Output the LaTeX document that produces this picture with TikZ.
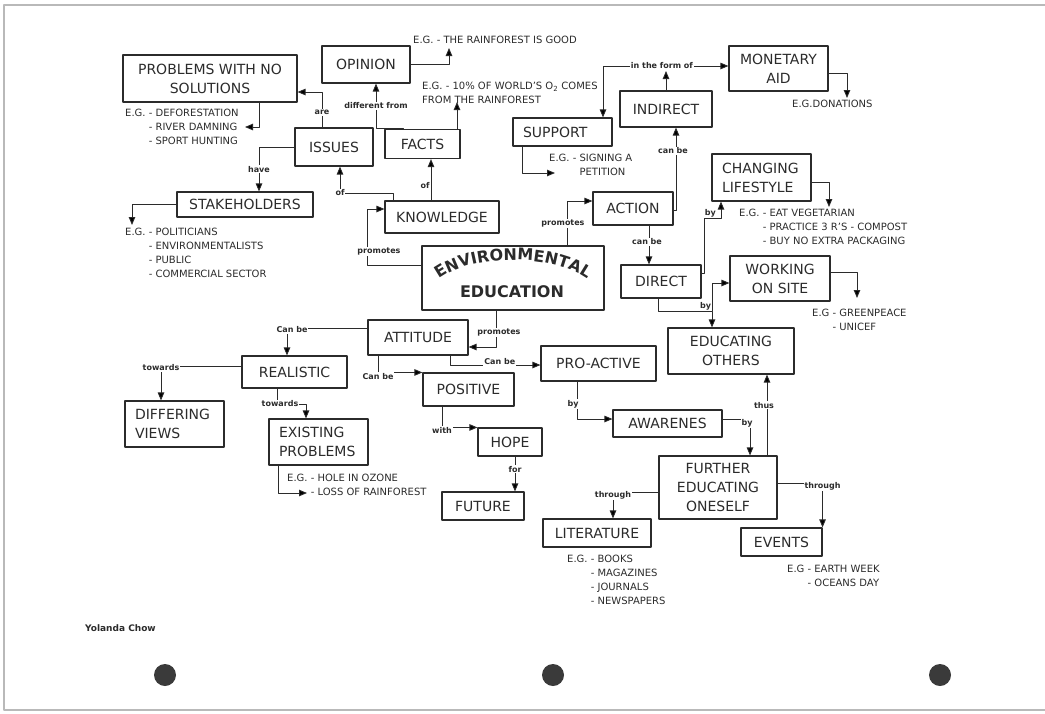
\documentclass[tikz,border=0pt]{standalone}
\usepackage{fontspec}
\setmainfont{DejaVu Sans}
\usepackage{tikz}
\usetikzlibrary{arrows.meta, decorations.text}
\usepackage{xcolor}

\definecolor{ink}{HTML}{2B2B2B}
\definecolor{dotgray}{HTML}{3A3A3A}

\newcommand{\boxfont}{\fontsize{14}{19}\selectfont}
\newcommand{\notefont}{\fontsize{10}{14}\selectfont}
\newcommand{\linkfont}{\fontsize{8}{9}\selectfont\bfseries}
\newcommand{\eefont}{\fontsize{16}{16}\selectfont\bfseries}

\tikzset{
  box/.style={draw=ink, line width=1.1pt, text=ink, font=\boxfont, align=center, inner sep=0pt},
  leftbox/.style={box, align=left, inner xsep=10pt},
  note/.style={anchor=west, align=left, text=ink, font=\notefont, inner sep=0pt},
  link/.style={draw=ink, line width=0.9pt, -{Triangle[length=8pt, width=6.5pt]}},
  lbl/.style={fill=white, text=ink, font=\linkfont, inner sep=1pt},
}

\begin{document}
\begin{tikzpicture}[x=1pt, y=-1pt, line join=round]

    % page is 1045 x 713, y runs downwards
    \useasboundingbox (0,0) rectangle (1045,713);
    \draw[gray!55, line width=1.5pt] (1045,5) -- (4,5) -- (4,710) -- (1045,710);

    % Free ends of the example arrows
    \coordinate (opintip)  at (449,48);
    \coordinate (factstip) at (457,102);
    \coordinate (probtip)  at (245,127);
    \coordinate (staketip) at (132,225);
    \coordinate (suptip)   at (555,173);
    \coordinate (montip)   at (847,98);
    \coordinate (chtip)    at (829,207);
    \coordinate (worktip)  at (857,298);
    \coordinate (extip)    at (307,493);
    \coordinate (formL)    at (603,66);
    \coordinate (byjoin)   at (712,311);

    % Concept boxes
    \node[box, minimum width=174pt, minimum height=47pt] (prob) at (210,78.5) {PROBLEMS WITH NO\\SOLUTIONS};
    \node[box, minimum width=88pt, minimum height=37pt] (opin) at (366,64.5) {OPINION};
    \node[box, minimum width=78pt, minimum height=38pt] (issues) at (334,147) {ISSUES};
    \node[box, minimum width=75pt, minimum height=29pt] (facts) at (422.5,144) {FACTS};
    \node[box, minimum width=136pt, minimum height=25pt] (stake) at (245,204.5) {STAKEHOLDERS};
    \node[box, minimum width=114pt, minimum height=32pt] (know) at (442,217) {KNOWLEDGE};
    \node[box, minimum width=182pt, minimum height=64pt] (ee) at (513,278) {};
    \node[leftbox, text width=79pt, minimum width=99pt, minimum height=28pt] (support) at (562.5,132) {SUPPORT};
    \node[box, minimum width=92pt, minimum height=36pt] (indirect) at (666,109) {INDIRECT};
    \node[box, minimum width=99pt, minimum height=45pt] (monetary) at (778.5,68.5) {MONETARY\\AID};
    \node[box, minimum width=80pt, minimum height=33pt] (action) at (633,208.5) {ACTION};
    \node[box, minimum width=80pt, minimum height=33pt] (direct) at (661,281.5) {DIRECT};
    \node[leftbox, text width=79pt, minimum width=99pt, minimum height=47pt] (changing) at (761.5,177.5) {CHANGING\\LIFESTYLE};
    \node[box, minimum width=100pt, minimum height=45pt] (working) at (780,278.5) {WORKING\\ON SITE};
    \node[box, minimum width=126pt, minimum height=46pt] (educ) at (731,351) {EDUCATING\\OTHERS};
    \node[box, minimum width=100pt, minimum height=35pt] (attitude) at (418,337.5) {ATTITUDE};
    \node[box, minimum width=105pt, minimum height=32pt] (realistic) at (294.5,372) {REALISTIC};
    \node[leftbox, text width=79pt, minimum width=99pt, minimum height=46pt] (differing) at (174.5,424) {DIFFERING\\VIEWS};
    \node[leftbox, text width=79pt, minimum width=99pt, minimum height=46pt] (existing) at (318.5,442) {EXISTING\\PROBLEMS};
    \node[box, minimum width=91pt, minimum height=33pt] (positive) at (468.5,389.5) {POSITIVE};
    \node[box, minimum width=115pt, minimum height=35pt] (proactive) at (598.5,363.5) {PRO-ACTIVE};
    \node[box, minimum width=109pt, minimum height=27pt] (awarenes) at (667.5,423.5) {AWARENES};
    \node[box, minimum width=64pt, minimum height=28pt] (hope) at (510,442) {HOPE};
    \node[box, minimum width=82pt, minimum height=28pt] (future) at (483,506) {FUTURE};
    \node[box, minimum width=108pt, minimum height=28pt] (literature) at (597,533) {LITERATURE};
    \node[box, minimum width=118pt, minimum height=63pt] (further) at (718,487.5) {FURTHER\\EDUCATING\\ONESELF};
    \node[box, minimum width=81pt, minimum height=28pt] (events) at (781.5,542) {EVENTS};

    % Arched title
    \path[decorate, decoration={text along path, text align=center, text color=ink,
        text={|\eefont|ENVIRONMENTAL}}]
        (428,290) .. controls (455,250) and (570,250) .. (598,290);
    \node[font=\eefont, text=ink, inner sep=0pt] (eetext) at (512,292) {EDUCATION};

    % Examples
    \node[note] (opinex) at (413,40) {E.G. - THE RAINFOREST IS GOOD};
    \node[note] (factsex) at (422,93) {E.G. - 10\% OF WORLD'S O\textsubscript{2} COMES\\FROM THE RAINFOREST};
    \node[note] (probex) at (125,127) {E.G. - DEFORESTATION\\\phantom{E.G. }- RIVER DAMNING\\\phantom{E.G. }- SPORT HUNTING};
    \node[note] (stakeex) at (125,253) {E.G. - POLITICIANS\\\phantom{E.G. }- ENVIRONMENTALISTS\\\phantom{E.G. }- PUBLIC\\\phantom{E.G. }- COMMERCIAL SECTOR};
    \node[note] (supex) at (549,165) {E.G. - SIGNING A\\\phantom{E.G. - }PETITION};
    \node[note] (monex) at (792,104) {E.G.DONATIONS};
    \node[note] (chex) at (739,226.5) {E.G. - EAT VEGETARIAN\\\phantom{E.G. }- PRACTICE 3 R'S - COMPOST\\\phantom{E.G. }- BUY NO EXTRA PACKAGING};
    \node[note] (workex) at (812,319.5) {E.G - GREENPEACE\\\phantom{E.G }- UNICEF};
    \node[note] (exex) at (287,484.5) {E.G. - HOLE IN OZONE\\\phantom{E.G. }- LOSS OF RAINFOREST};
    \node[note] (litex) at (567,580) {E.G. - BOOKS\\\phantom{E.G. }- MAGAZINES\\\phantom{E.G. }- JOURNALS\\\phantom{E.G. }- NEWSPAPERS};
    \node[note] (evex) at (787,576) {E.G - EARTH WEEK\\\phantom{E.G }- OCEANS DAY};
    \node[note, font=\fontsize{9}{11}\selectfont\bfseries] (author) at (85,628) {Yolanda Chow};

    % Knowledge side
    \draw[link] (issues.north -| 322,0) |- (prob.east |- 0,92) node[lbl, pos=0.21] {are};
    \draw[link] (prob.south -| 259,0) |- (probtip);
    \draw[link] (issues.west) -| (stake.north -| 259,0) node[lbl, pos=0.75] {have};
    \draw[link] (stake.west) -| (staketip);
    \draw[link] (opin.east) -| (opintip);
    \draw[link] (facts.north -| 403,0) -- (403,128) -| (opin.south -| 376,0) node[lbl, pos=0.75] {different from};
    \draw[link] (facts.north -| 457,0) -- (factstip);
    \draw[link] (know.north -| 431,0) -- (facts.south -| 431,0) node[lbl, pos=0.35, left, fill=none] {of};
    \draw[link] (know.north -| 393,0) -- (393,193) -| (issues.south -| 340,0) node[lbl, pos=0.5] {of};
    \draw[link] (ee.west |- 0,265) -- (367,265) |- (know.west |- 0,209) node[lbl, pos=0.12, xshift=12pt] {promotes};

    % Action side
    \draw[link] (ee.north -| 567,0) |- (action.west |- 0,201) node[lbl, pos=0.25, xshift=-4pt] {promotes};
    \draw[link] (action.east |- 0,210) -| (indirect.south -| 676,0) node[lbl, pos=0.86, xshift=-3pt] {can be};
    \draw[link] (action.south -| 649,0) -- (direct.north -| 649,0) node[lbl, pos=0.42, xshift=-2pt] {can be};
    \draw[link, shorten >=5pt] (indirect.north) -- (indirect.north |- formL);
    \draw[link] (formL) -- (monetary.west |- formL) node[lbl, pos=0.47] {in the form of};
    \draw[link] (formL) -- (support.north -| formL);
    \draw[link] (support.south -| 522,0) |- (suptip);
    \draw[link] (monetary.east |- 0,73) -| (montip);
    \draw[link] (direct.east |- 0,273) -- (704,273) -- (704,218) -| (changing.south -| 721,0)
        node[lbl, pos=0, above right, fill=none, inner sep=0.5pt] {by};
    \draw[link] (direct.south -| 658,0) |- (byjoin) node[lbl, pos=1, above left, inner sep=0.5pt] {by}
        -- (educ.north -| byjoin);
    \draw[link] (byjoin) |- (working.west |- 0,283);
    \draw[link] (working.east |- 0,272) -| (worktip);
    \draw[link] (changing.east |- 0,182) -| (chtip);

    % Attitude side
    \draw[link] (ee.south -| 496,0) |- (attitude.east |- 0,347) node[lbl, pos=0.3, xshift=3pt] {promotes};
    \draw[link] (attitude.west |- 0,328) -| (realistic.north -| 287,0) node[lbl, pos=0.5, xshift=5pt, yshift=-2pt] {Can be};
    \draw[link] (realistic.west |- 0,366) -| (differing.north -| 161,0) node[lbl, pos=0.5, yshift=-2pt] {towards};
    \draw[link] (realistic.south -| 277,0) |- (306,404) node[lbl, pos=0.5, xshift=3pt] {towards}
        -- (existing.north -| 306,0);
    \draw[link] (existing.south -| 278,0) |- (extip);
    \draw[link] (attitude.south -| 378,0) |- (positive.north west) node[lbl, pos=0.5, yshift=-4pt] {Can be};
    \draw[link] (attitude.south -| 450,0) |- (proactive.west |- 0,365) node[lbl, pos=0.775, yshift=3pt] {Can be};
    \draw[link] (proactive.south -| 577,0) |- (awarenes.west |- 0,419) node[lbl, pos=0.3, xshift=-4pt] {by};
    \draw[link] (positive.south -| 442,0) |- (hope.north west) node[lbl, pos=0.5, yshift=-3pt] {with};
    \draw[link] (hope.south -| 515,0) -- (future.north -| 515,0) node[lbl, pos=0.36] {for};
    \draw[link] (awarenes.east |- 0,419) -| (further.north -| 750,0) node[lbl, pos=0.5, xshift=-3pt, yshift=-4pt] {by};
    \draw[link] (further.north -| 767,0) -- (educ.south -| 767,0) node[lbl, pos=0.62, xshift=-3pt] {thus};
    \draw[link] (further.west |- 0,492) -| (literature.north -| 613,0) node[lbl, pos=0.5, yshift=-3pt] {through};
    \draw[link] (further.east |- 0,483) -| (events.north east) node[lbl, pos=0.5, yshift=-3pt] {through};

    % Punch holes
    \foreach \dx in {165,553,940}
        \fill[dotgray] (\dx,675) circle (11pt);

\end{tikzpicture}
\end{document}
